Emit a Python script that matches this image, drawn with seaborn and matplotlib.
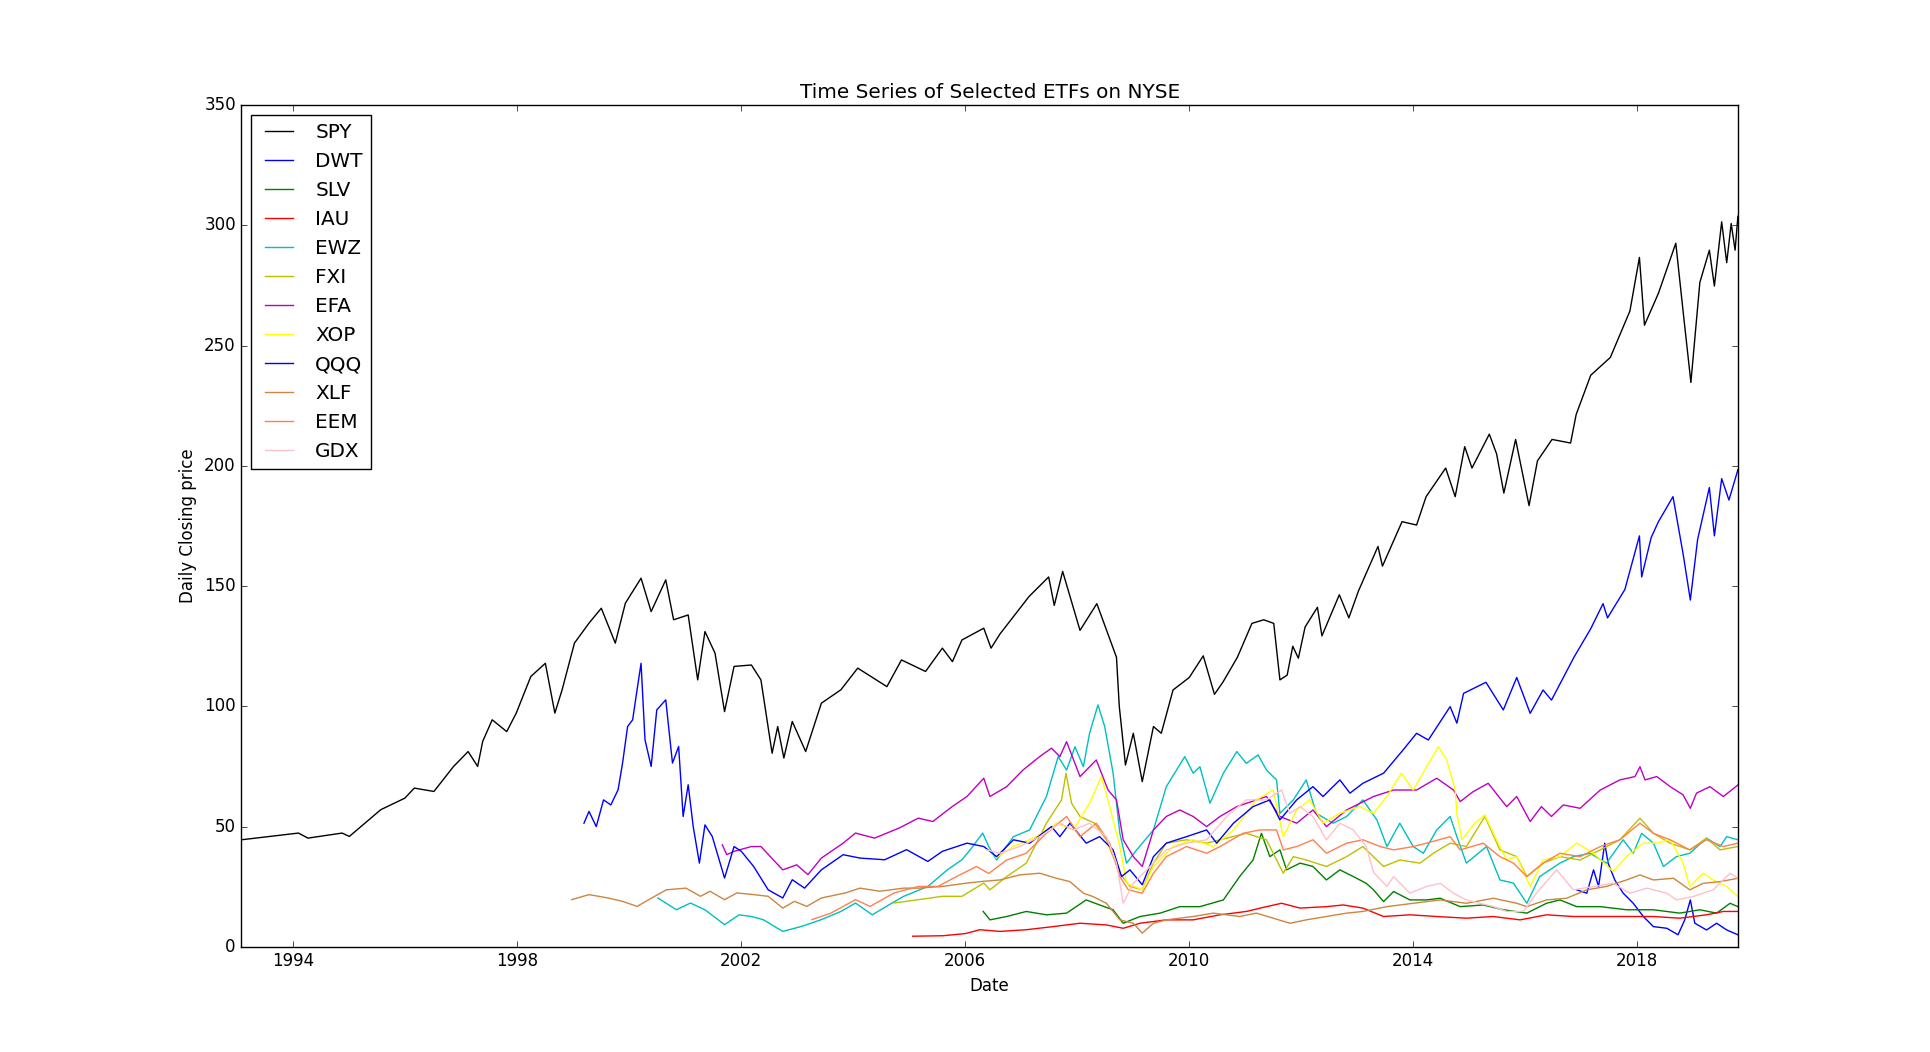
import numpy as np
import pandas as pd
import matplotlib
matplotlib.use("Agg")
import matplotlib.pyplot as plt
import matplotlib.dates as mdates
import seaborn as sns

# values (decimal year, closing price)
tickers = ["SPY", "DWT", "SLV", "IAU", "EWZ", "FXI", "EFA", "XOP", "QQQ", "XLF", "EEM", "GDX"]
colors = ["k", "b", "g", "r", "c", "y", "m", "yellow", "blue", "peru", "coral", "pink"]
tick_years = [1994, 1998, 2002, 2006, 2010, 2014, 2018]

spy_t = [1993.07, 1994.09, 1994.26, 1994.87, 1995.0, 1995.56, 1995.99, 1996.16, 1996.51, 1996.86,
         1997.12, 1997.29, 1997.38, 1997.55, 1997.81, 1997.98, 1998.24, 1998.5, 1998.67, 1998.8,
         1999.02, 1999.28, 1999.5, 1999.75, 1999.93, 2000.21, 2000.39, 2000.65, 2000.79, 2001.05,
         2001.22, 2001.35, 2001.53, 2001.7, 2001.87, 2002.18, 2002.35, 2002.55, 2002.65, 2002.76,
         2002.91, 2003.15, 2003.43, 2003.78, 2004.08, 2004.6, 2004.86, 2005.29, 2005.59, 2005.77,
         2005.94, 2006.33, 2006.46, 2006.62, 2007.14, 2007.49, 2007.59, 2007.74, 2008.05, 2008.35,
         2008.7, 2008.75, 2008.86, 2009.0, 2009.16, 2009.36, 2009.5, 2009.71, 2010.0, 2010.25,
         2010.45, 2010.6, 2010.86, 2011.12, 2011.33, 2011.51, 2011.62, 2011.75, 2011.85, 2011.95,
         2012.07, 2012.29, 2012.37, 2012.68, 2012.85, 2013.02, 2013.37, 2013.45, 2013.8, 2014.06,
         2014.23, 2014.58, 2014.75, 2014.92, 2015.05, 2015.36, 2015.49, 2015.62, 2015.83, 2016.07,
         2016.22, 2016.48, 2016.81, 2016.91, 2017.17, 2017.52, 2017.87, 2018.04, 2018.13, 2018.38,
         2018.69, 2018.82, 2018.96, 2019.12, 2019.29, 2019.38, 2019.51, 2019.6, 2019.68, 2019.75,
         2019.8]
spy_v = [44.5, 47.3, 45.2, 47.3, 45.9, 57.0, 61.8, 66.0, 64.6, 75.0,
         81.2, 75.0, 85.4, 94.4, 89.5, 97.2, 112.4, 117.9, 97.2, 106.9,
         126.3, 134.6, 140.8, 126.3, 142.9, 153.3, 139.4, 152.6, 136.0, 138.0,
         111.0, 131.1, 122.1, 97.8, 116.6, 117.2, 111.0, 80.5, 91.6, 78.5,
         93.7, 81.2, 101.3, 106.9, 115.9, 108.2, 119.3, 114.5, 124.2, 118.6,
         127.6, 132.5, 124.2, 130.1, 145.7, 153.8, 142.0, 156.1, 131.6, 142.7,
         120.4, 100.0, 75.6, 88.8, 68.7, 91.6, 88.8, 106.8, 112.0, 121.0,
         105.0, 110.0, 120.4, 134.5, 136.0, 134.5, 111.0, 113.0, 125.0, 120.0,
         133.0, 141.2, 129.3, 146.4, 136.8, 147.9, 166.5, 158.3, 176.8, 175.4,
         187.2, 199.1, 187.2, 208.0, 199.1, 213.2, 205.0, 188.7, 211.0, 183.5,
         202.1, 211.0, 209.5, 221.4, 237.7, 245.1, 264.4, 286.7, 258.5, 271.8,
         292.6, 264.4, 234.7, 276.3, 289.7, 274.8, 301.5, 284.5, 300.8, 289.7,
         303.8]

dwt_t = [2016.92, 2017.1, 2017.22, 2017.31, 2017.42, 2017.48, 2017.6, 2017.75, 2017.93, 2018.11,
         2018.29, 2018.53, 2018.73, 2018.85, 2018.95, 2019.03, 2019.24, 2019.42, 2019.6, 2019.8]
dwt_v = [23.7, 22.3, 32.0, 25.1, 43.1, 34.8, 27.8, 22.3, 18.1, 12.6,
         8.4, 7.7, 5.0, 11.2, 19.5, 9.8, 7.0, 9.8, 7.0, 5.0]

slv_t = [2006.32, 2006.44, 2006.74, 2007.09, 2007.45, 2007.81, 2008.16, 2008.4, 2008.64, 2008.82,
         2009.12, 2009.48, 2009.83, 2010.19, 2010.61, 2010.9, 2011.14, 2011.29, 2011.44, 2011.62,
         2011.74, 2011.98, 2012.21, 2012.45, 2012.69, 2012.93, 2013.16, 2013.29, 2013.47, 2013.65,
         2013.94, 2014.24, 2014.48, 2014.84, 2015.25, 2015.61, 2016.03, 2016.38, 2016.62, 2016.92,
         2017.34, 2017.81, 2018.29, 2018.76, 2019.12, 2019.42, 2019.66, 2019.8]
slv_v = [14.7, 11.2, 12.6, 14.7, 13.3, 14.0, 19.5, 17.4, 15.4, 9.8,
         12.6, 14.0, 16.7, 16.7, 19.5, 29.2, 36.1, 47.2, 37.5, 40.3,
         32.0, 34.8, 33.4, 27.8, 32.0, 29.2, 26.4, 23.7, 18.8, 23.0,
         19.5, 19.5, 20.2, 16.7, 17.4, 15.4, 14.0, 18.1, 19.5, 16.7,
         16.7, 15.4, 15.4, 14.0, 15.4, 14.0, 18.1, 16.7]

iau_t = [2005.06, 2005.6, 2006.0, 2006.26, 2006.62, 2007.09, 2007.57, 2008.05, 2008.52, 2008.82,
         2009.12, 2009.59, 2010.07, 2010.55, 2011.02, 2011.38, 2011.65, 2011.98, 2012.45, 2012.75,
         2013.1, 2013.47, 2013.94, 2014.42, 2014.95, 2015.43, 2015.91, 2016.38, 2016.86, 2017.34,
         2017.81, 2018.29, 2018.76, 2019.24, 2019.54, 2019.8]
iau_v = [4.4, 4.6, 5.5, 7.1, 6.4, 7.1, 8.4, 9.8, 9.1, 7.7,
         9.8, 11.2, 11.2, 13.3, 14.7, 16.7, 18.1, 16.1, 16.7, 17.4,
         16.1, 12.6, 13.3, 12.6, 11.9, 12.6, 11.2, 13.3, 12.6, 12.6,
         12.6, 12.6, 11.9, 13.3, 14.7, 14.7]

ewz_t = [2000.51, 2000.84, 2001.09, 2001.35, 2001.7, 2001.96, 2002.18, 2002.39, 2002.74, 2003.08,
         2003.43, 2003.78, 2004.04, 2004.34, 2004.64, 2004.9, 2005.33, 2005.68, 2005.94, 2006.11,
         2006.31, 2006.42, 2006.56, 2006.86, 2007.15, 2007.45, 2007.66, 2007.81, 2007.96, 2008.11,
         2008.22, 2008.37, 2008.49, 2008.64, 2008.76, 2008.88, 2009.06, 2009.36, 2009.59, 2009.92,
         2010.07, 2010.19, 2010.37, 2010.61, 2010.85, 2011.02, 2011.23, 2011.38, 2011.56, 2011.62,
         2011.86, 2012.09, 2012.27, 2012.57, 2012.81, 2013.1, 2013.35, 2013.53, 2013.76, 2014.0,
         2014.18, 2014.42, 2014.66, 2014.78, 2014.95, 2015.31, 2015.55, 2015.79, 2016.03, 2016.26,
         2016.62, 2016.86, 2017.16, 2017.45, 2017.75, 2017.93, 2018.08, 2018.29, 2018.47, 2018.7,
         2018.94, 2019.24, 2019.48, 2019.6, 2019.8]
ewz_v = [20.3, 15.4, 18.2, 15.4, 9.2, 13.3, 12.6, 11.3, 6.4, 8.5,
         11.3, 14.7, 18.2, 13.3, 17.5, 21.0, 25.1, 32.0, 36.2, 41.0,
         47.3, 41.7, 36.1, 45.8, 48.6, 62.5, 79.1, 73.5, 83.2, 74.9,
         88.8, 100.6, 91.6, 72.2, 47.2, 34.8, 40.3, 48.6, 66.6, 79.1,
         72.2, 74.9, 59.7, 72.2, 81.2, 76.3, 79.8, 73.5, 69.4, 55.5,
         61.1, 69.4, 55.5, 51.4, 54.2, 61.1, 52.8, 41.7, 51.4, 41.7,
         38.9, 48.6, 54.2, 45.8, 34.8, 41.7, 27.8, 26.5, 18.1, 29.2,
         34.8, 37.5, 38.9, 34.8, 44.5, 38.9, 47.2, 43.1, 33.4, 37.5,
         38.9, 45.2, 41.7, 45.8, 44.5]

fxi_t = [2004.73, 2005.16, 2005.59, 2005.94, 2006.33, 2006.44, 2006.74, 2007.09, 2007.45, 2007.72,
         2007.8, 2007.9, 2008.05, 2008.31, 2008.52, 2008.76, 2008.94, 2009.16, 2009.36, 2009.59,
         2009.95, 2010.31, 2010.55, 2011.02, 2011.38, 2011.68, 2011.86, 2012.09, 2012.45, 2012.81,
         2013.1, 2013.47, 2013.76, 2014.12, 2014.36, 2014.66, 2014.95, 2015.28, 2015.55, 2015.85,
         2016.03, 2016.32, 2016.62, 2016.98, 2017.34, 2017.69, 2018.05, 2018.29, 2018.59, 2018.94,
         2019.24, 2019.48, 2019.8]
fxi_v = [18.2, 19.6, 21.0, 21.0, 26.5, 23.7, 29.2, 34.8, 51.4, 61.1,
         72.2, 59.7, 54.2, 51.4, 44.5, 30.6, 25.1, 23.7, 34.8, 43.1,
         44.5, 43.1, 44.5, 47.2, 44.5, 30.6, 37.5, 36.1, 33.4, 37.5,
         41.7, 33.4, 36.1, 34.8, 38.9, 43.1, 41.7, 54.2, 40.3, 37.5,
         29.2, 34.8, 37.5, 36.1, 40.3, 44.5, 53.5, 47.2, 43.1, 40.3,
         45.2, 40.3, 41.7]

efa_t = [2001.66, 2001.74, 2001.87, 2002.18, 2002.35, 2002.57, 2002.74, 2002.99, 2003.19, 2003.43,
         2003.82, 2004.04, 2004.38, 2004.82, 2005.16, 2005.42, 2005.77, 2006.03, 2006.33, 2006.44,
         2006.74, 2007.03, 2007.33, 2007.54, 2007.69, 2007.81, 2008.05, 2008.34, 2008.55, 2008.7,
         2008.82, 2009.0, 2009.16, 2009.36, 2009.59, 2009.83, 2010.07, 2010.31, 2010.55, 2010.85,
         2011.2, 2011.38, 2011.62, 2011.92, 2012.21, 2012.45, 2012.81, 2013.29, 2013.65, 2014.06,
         2014.42, 2014.72, 2014.84, 2015.07, 2015.34, 2015.67, 2015.85, 2016.09, 2016.29, 2016.47,
         2016.68, 2016.98, 2017.34, 2017.69, 2017.96, 2018.05, 2018.14, 2018.35, 2018.59, 2018.82,
         2018.95, 2019.06, 2019.3, 2019.54, 2019.8]
efa_v = [42.4, 38.3, 39.7, 41.7, 41.7, 36.2, 32.0, 34.1, 30.0, 36.9,
         43.1, 47.3, 45.2, 49.4, 53.5, 52.1, 58.4, 62.5, 70.1, 62.5,
         66.6, 73.5, 79.1, 82.6, 79.1, 85.3, 70.8, 77.7, 65.2, 61.1,
         44.5, 37.5, 33.4, 48.6, 54.2, 56.9, 54.2, 50.0, 54.2, 58.3,
         61.1, 62.5, 54.2, 51.4, 56.9, 50.0, 56.9, 62.5, 65.2, 65.2,
         70.1, 65.2, 60.4, 64.5, 68.0, 58.3, 62.5, 52.1, 58.3, 54.2,
         59.0, 57.6, 65.2, 69.4, 70.8, 74.9, 69.4, 70.8, 66.6, 63.2,
         57.6, 63.9, 66.6, 62.5, 67.3]

xop_t = [2006.55, 2006.86, 2007.27, 2007.63, 2007.93, 2008.22, 2008.43, 2008.58, 2008.76, 2008.88,
         2009.16, 2009.36, 2009.71, 2010.07, 2010.43, 2010.79, 2011.2, 2011.5, 2011.68, 2011.92,
         2012.15, 2012.39, 2012.69, 2013.04, 2013.29, 2013.53, 2013.79, 2014.0, 2014.24, 2014.45,
         2014.6, 2014.75, 2014.78, 2014.87, 2015.1, 2015.28, 2015.49, 2015.67, 2015.85, 2016.09,
         2016.32, 2016.62, 2016.92, 2017.22, 2017.57, 2017.81, 2018.11, 2018.35, 2018.59, 2018.82,
         2018.94, 2019.18, 2019.36, 2019.6, 2019.8]
xop_v = [37.0, 41.7, 45.8, 51.4, 48.6, 59.7, 70.8, 58.3, 41.7, 26.4,
         23.7, 33.4, 41.7, 44.5, 41.7, 48.6, 61.1, 65.2, 45.8, 56.9,
         61.1, 51.4, 55.5, 58.3, 55.5, 62.5, 72.2, 65.2, 74.9, 83.2,
         77.7, 65.2, 55.5, 44.5, 51.4, 54.8, 44.5, 36.1, 37.5, 25.1,
         36.1, 37.5, 43.1, 38.9, 31.3, 37.5, 43.1, 43.1, 44.5, 34.8,
         25.1, 30.6, 27.8, 25.1, 20.9]

qqq_t = [1999.19, 1999.28, 1999.41, 1999.54, 1999.67, 1999.8, 1999.88, 1999.97, 2000.06, 2000.13,
         2000.21, 2000.28, 2000.39, 2000.49, 2000.65, 2000.77, 2000.88, 2000.96, 2001.05, 2001.14,
         2001.25, 2001.35, 2001.48, 2001.7, 2001.87, 2002.0, 2002.22, 2002.48, 2002.74, 2002.91,
         2003.13, 2003.43, 2003.82, 2004.12, 2004.56, 2004.95, 2005.33, 2005.59, 2006.03, 2006.33,
         2006.56, 2006.86, 2007.15, 2007.54, 2007.69, 2007.87, 2008.16, 2008.4, 2008.64, 2008.79,
         2008.94, 2009.16, 2009.36, 2009.59, 2009.95, 2010.31, 2010.49, 2010.79, 2011.14, 2011.44,
         2011.62, 2011.92, 2012.21, 2012.39, 2012.69, 2012.87, 2013.1, 2013.47, 2013.82, 2014.06,
         2014.27, 2014.66, 2014.78, 2014.9, 2015.3, 2015.61, 2015.85, 2016.09, 2016.32, 2016.47,
         2016.87, 2017.17, 2017.39, 2017.47, 2017.78, 2018.04, 2018.08, 2018.25, 2018.38, 2018.64,
         2018.82, 2018.95, 2019.08, 2019.29, 2019.38, 2019.51, 2019.64, 2019.8]
qqq_v = [51.4, 56.3, 50.0, 61.1, 59.0, 65.3, 76.4, 91.6, 94.4, 105.5,
         117.9, 86.1, 75.0, 98.5, 102.7, 76.4, 83.3, 54.2, 67.4, 50.0,
         34.8, 50.7, 45.9, 28.6, 41.7, 39.7, 33.4, 23.7, 20.3, 27.9,
         24.4, 32.0, 38.3, 36.9, 36.2, 40.4, 35.5, 39.7, 43.1, 41.7,
         37.5, 44.5, 43.1, 50.0, 45.8, 51.4, 43.1, 45.8, 40.3, 29.2,
         32.0, 25.8, 37.5, 43.1, 45.8, 48.6, 43.1, 51.4, 58.3, 61.1,
         52.8, 61.1, 66.6, 62.5, 69.4, 63.9, 68.0, 72.2, 81.9, 88.8,
         86.0, 99.9, 93.0, 105.4, 110.0, 98.5, 112.0, 97.1, 106.8, 102.6,
         120.4, 132.3, 142.7, 136.8, 148.6, 170.9, 153.8, 170.2, 176.8, 187.2,
         163.5, 144.2, 169.4, 191.0, 170.9, 194.7, 185.8, 198.4]

xlf_t = [1998.97, 1999.28, 1999.62, 1999.88, 2000.14, 2000.4, 2000.66, 2001.01, 2001.27, 2001.44,
         2001.7, 2001.92, 2002.22, 2002.48, 2002.74, 2002.95, 2003.17, 2003.43, 2003.86, 2004.12,
         2004.47, 2004.9, 2005.16, 2005.59, 2006.03, 2006.26, 2006.62, 2006.97, 2007.33, 2007.63,
         2007.87, 2008.11, 2008.28, 2008.52, 2008.76, 2009.0, 2009.16, 2009.36, 2009.59, 2010.07,
         2010.43, 2010.9, 2011.2, 2011.5, 2011.8, 2012.09, 2012.45, 2012.81, 2013.1, 2013.53,
         2014.0, 2014.48, 2014.95, 2015.43, 2015.85, 2016.03, 2016.38, 2016.74, 2017.1, 2017.45,
         2017.81, 2018.05, 2018.29, 2018.65, 2018.94, 2019.18, 2019.48, 2019.8]
xlf_v = [19.6, 21.7, 20.3, 18.9, 16.8, 20.3, 23.7, 24.4, 21.0, 23.1,
         19.6, 22.4, 21.7, 21.0, 16.1, 18.9, 16.8, 20.3, 22.4, 24.4,
         23.1, 24.4, 24.4, 25.1, 26.5, 27.1, 27.8, 29.9, 30.6, 28.5,
         27.1, 22.3, 20.9, 18.1, 11.2, 9.8, 5.7, 9.8, 11.2, 12.6,
         14.0, 12.6, 14.0, 11.9, 9.8, 11.2, 12.6, 14.0, 14.7, 16.7,
         18.1, 19.5, 18.1, 20.2, 18.1, 16.7, 19.5, 20.2, 23.7, 25.1,
         27.8, 29.9, 27.8, 28.5, 23.7, 26.4, 27.1, 28.5]

eem_t = [2003.26, 2003.6, 2004.04, 2004.3, 2004.73, 2005.16, 2005.51, 2005.85, 2006.2, 2006.42,
         2006.74, 2007.09, 2007.45, 2007.81, 2008.05, 2008.34, 2008.58, 2008.76, 2008.91, 2009.16,
         2009.36, 2009.59, 2009.95, 2010.31, 2010.55, 2010.96, 2011.26, 2011.56, 2011.68, 2011.92,
         2012.21, 2012.45, 2012.81, 2013.1, 2013.41, 2013.65, 2014.0, 2014.24, 2014.66, 2014.84,
         2015.25, 2015.55, 2015.79, 2016.03, 2016.32, 2016.62, 2016.98, 2017.34, 2017.69, 2018.05,
         2018.29, 2018.59, 2018.94, 2019.24, 2019.54, 2019.8]
eem_v = [11.3, 14.0, 19.6, 16.8, 22.4, 25.1, 25.1, 29.3, 33.4, 30.5,
         36.1, 38.9, 47.2, 54.2, 45.8, 51.4, 43.1, 29.2, 23.7, 22.3,
         30.6, 37.5, 41.7, 38.9, 41.7, 47.2, 48.6, 48.6, 40.3, 41.7,
         44.5, 38.9, 43.1, 44.5, 41.7, 40.3, 41.7, 43.1, 45.8, 40.3,
         43.1, 37.5, 34.8, 29.2, 34.8, 38.9, 37.5, 41.7, 44.5, 51.4,
         47.2, 44.5, 40.3, 44.5, 41.7, 43.1]

gdx_t = [2006.38, 2006.62, 2006.97, 2007.33, 2007.69, 2007.93, 2008.22, 2008.52, 2008.7, 2008.82,
         2009.0, 2009.24, 2009.59, 2009.95, 2010.31, 2010.67, 2011.02, 2011.38, 2011.65, 2011.8,
         2011.98, 2012.21, 2012.45, 2012.69, 2012.93, 2013.16, 2013.29, 2013.53, 2013.65, 2013.94,
         2014.24, 2014.48, 2014.72, 2014.95, 2015.19, 2015.43, 2015.67, 2015.97, 2016.2, 2016.56,
         2016.86, 2017.22, 2017.57, 2017.87, 2018.17, 2018.53, 2018.7, 2019.0, 2019.36, 2019.66,
         2019.8]
gdx_v = [40.3, 38.9, 41.7, 45.8, 51.4, 48.6, 51.4, 45.8, 34.8, 18.1,
         26.4, 32.0, 40.3, 43.1, 44.5, 54.2, 61.1, 61.1, 65.2, 55.5,
         58.3, 54.2, 44.5, 51.4, 48.6, 41.7, 31.0, 25.1, 29.2, 22.3,
         25.1, 26.4, 22.3, 19.5, 18.1, 16.7, 14.7, 14.7, 22.3, 32.0,
         23.7, 25.1, 26.4, 22.3, 24.4, 22.3, 19.5, 20.9, 23.7, 30.6,
         28.5]

series_t = [spy_t, dwt_t, slv_t, iau_t, ewz_t, fxi_t, efa_t, xop_t, qqq_t, xlf_t, eem_t, gdx_t]
series_v = [spy_v, dwt_v, slv_v, iau_v, ewz_v, fxi_v, efa_v, xop_v, qqq_v, xlf_v, eem_v, gdx_v]


def to_date(y):
    # decimal year -> timestamp
    year = int(y)
    start = pd.Timestamp(year=year, month=1, day=1)
    end = pd.Timestamp(year=year + 1, month=1, day=1)
    return start + (end - start) * (y - year)


plt.style.use("classic")
fig, ax = plt.subplots(figsize=(19.31, 10.52), dpi=100)

for name, col, t, v in zip(tickers, colors, series_t, series_v):
    df = pd.DataFrame({"Date": [to_date(x) for x in t], "Close": v})
    sns.lineplot(data=df, x="Date", y="Close", color=col, label=name, ax=ax,
                 linewidth=1.0, sort=False)

all_t = [x for t in series_t for x in t]
ax.set_xlim(to_date(min(all_t)), to_date(max(all_t)))
ax.set_ylim(0, 350)
ax.set_xticks([pd.Timestamp(year=y, month=1, day=1) for y in tick_years])
ax.xaxis.set_major_formatter(mdates.DateFormatter("%Y"))

ax.set_title("Time Series of Selected ETFs on NYSE")
ax.set_xlabel("Date")
ax.set_ylabel("Daily Closing price")
ax.legend(loc="upper left")

fig.savefig("out.png", dpi=100)
